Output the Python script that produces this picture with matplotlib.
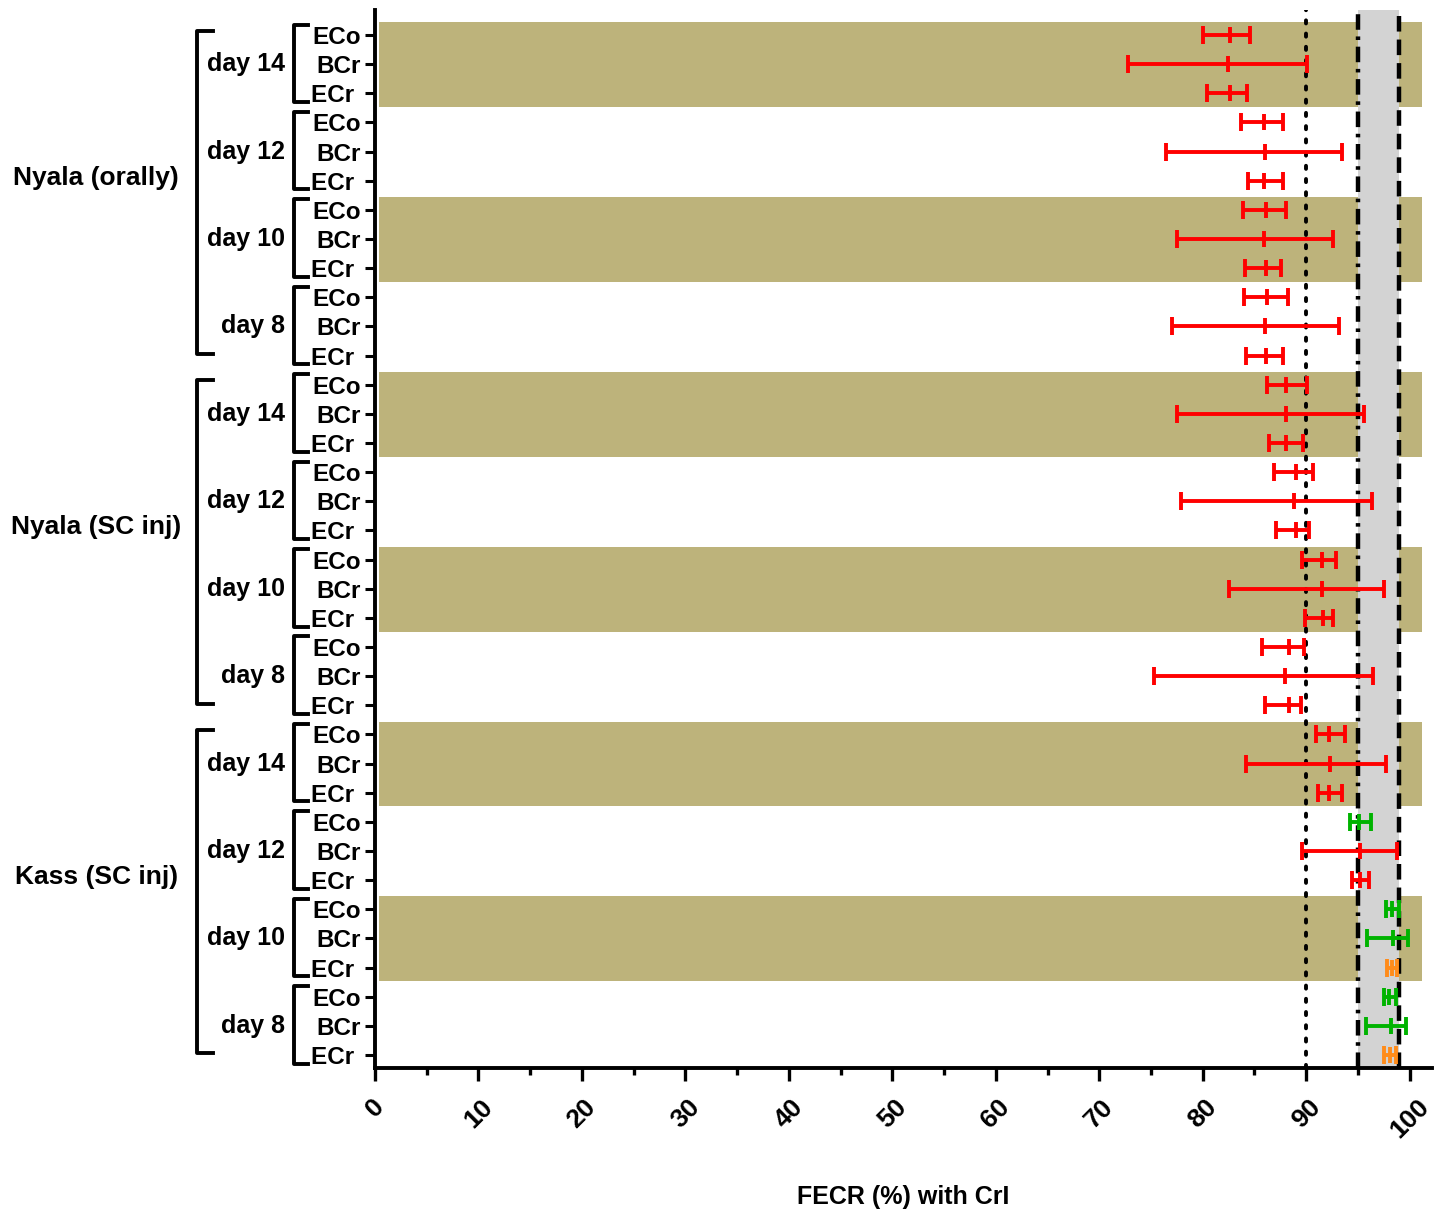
import matplotlib
matplotlib.use("Agg")
import matplotlib.pyplot as plt
import matplotlib.transforms as mtransforms
import numpy as np

# -------------------------------
# data (rows top to bottom)
# -------------------------------
groups = ["Nyala (orally)", "Nyala (SC inj)", "Kass (SC inj)"]
days = ["day 14", "day 12", "day 10", "day 8"]
methods = ["ECo", "BCr", "ECr "]

fecr = [82.6, 82.4, 82.6, 85.9, 86.0, 85.9, 86.1, 85.9, 86.1, 86.2, 86.0, 86.1,
        88.0, 88.0, 88.0, 89.0, 88.8, 89.0, 91.5, 91.5, 91.6, 88.3, 87.9, 88.3,
        92.2, 92.3, 92.2, 95.1, 95.2, 95.2, 98.3, 98.4, 98.3, 98.0, 98.2, 98.1]
cri_low = [80.0, 72.8, 80.4, 83.7, 76.4, 84.4, 83.9, 77.5, 84.1, 84.0, 77.0, 84.2,
           86.2, 77.5, 86.4, 86.9, 77.9, 87.1, 89.6, 82.5, 89.9, 85.7, 75.3, 86.0,
           90.9, 84.2, 91.1, 94.2, 89.6, 94.4, 97.7, 95.9, 97.8, 97.5, 95.8, 97.5]
cri_high = [84.6, 90.1, 84.3, 87.8, 93.5, 87.8, 88.0, 92.6, 87.6, 88.2, 93.2, 87.8,
            90.1, 95.6, 89.7, 90.7, 96.4, 90.3, 92.9, 97.5, 92.6, 89.8, 96.5, 89.5,
            93.7, 97.7, 93.5, 96.3, 98.8, 96.1, 99.0, 99.8, 98.8, 98.7, 99.6, 98.7]
status = ["r"] * 27 + ["g", "r", "r", "g", "g", "o", "g", "g", "o"]

status_colors = {"r": "#FF0000", "g": "#00B300", "o": "#FF8C1A"}

plt.rcParams["font.family"] = ["Liberation Sans", "DejaVu Sans"]
plt.rcParams["font.weight"] = "bold"

fig = plt.figure(figsize=(14.39, 12.13), dpi=100)
ax = fig.add_axes([0.2606, 0.1195, 0.7345, 0.8723])

n = len(fecr)
y = np.arange(n)
fecr = np.array(fecr)
lo = fecr - np.array(cri_low)
hi = np.array(cri_high) - fecr

# alternating background bands per day block
for b in range(0, n // 3, 2):
    ax.fill_between([0.4, 101.2], b * 3 - 0.44, b * 3 + 2.47,
                    color="#BDB37B", lw=0, zorder=1)

# cut-off zone and reference lines
ax.axvspan(95, 99, color="#D3D3D3", lw=0, zorder=2)
ax.axvline(90, color="black", lw=2.8, ls=(0, (0.8, 2.6)), dash_capstyle="round", zorder=3)
ax.axvline(95, color="black", lw=3.2, ls=(0, (3.5, 1.5, 0.8, 1.5)), zorder=3)
ax.axvline(99, color="black", lw=3.2, ls=(0, (3.5, 1.8)), zorder=3)

for key, col in status_colors.items():
    idx = [i for i, s in enumerate(status) if s == key]
    ax.errorbar(fecr[idx], y[idx], xerr=[lo[idx], hi[idx]], fmt="|", color=col,
                ecolor=col, elinewidth=2.8, capsize=6.5, capthick=2.8,
                markersize=11, mew=2.8, zorder=5)

ax.set_xlim(0, 102.15)
ax.set_ylim(n - 0.55, -0.86)
ax.set_xticks(np.arange(0, 101, 10))
ax.set_xticks(np.arange(5, 100, 10), minor=True)
ax.set_xticklabels([str(v) for v in range(0, 101, 10)], rotation=45,
                   ha="center", fontsize=19, fontweight="bold")
ax.set_yticks(y)
ax.set_yticklabels(methods * (n // 3), fontsize=17.5, fontweight="bold")
ax.tick_params(axis="y", length=7, width=2.2, pad=3)
ax.tick_params(axis="x", which="major", length=9, width=2.4, pad=10)
ax.tick_params(axis="x", which="minor", length=5, width=2.4)

for s in ["top", "right"]:
    ax.spines[s].set_visible(False)
for s in ["left", "bottom"]:
    ax.spines[s].set_linewidth(2.8)

ax.set_xlabel("FECR (%) with CrI", fontsize=18, fontweight="bold")
ax.xaxis.set_label_coords(0.5, -0.122)
ax.xaxis.label.set_va("center")

# bracket labels on the left
trans = mtransforms.blended_transform_factory(ax.transAxes, ax.transData)
for k in range(n // 3):
    top, bot = k * 3 - 0.36, k * 3 + 2.3
    ax.plot([-0.0633, -0.0766, -0.0766, -0.0633], [top, top, bot, bot],
            color="black", lw=2.8, transform=trans, clip_on=False)
    ax.text(-0.0855, k * 3 + 1, days[k % 4], transform=trans, ha="right",
            va="center", fontsize=18, fontweight="bold")

for g, name in enumerate(groups):
    first = g * 12
    top, bot = first - 0.15, first + 11 - 0.05
    ax.plot([-0.153, -0.1684, -0.1684, -0.153], [top, top, bot, bot],
            color="black", lw=2.8, transform=trans, clip_on=False)
    ax.text(-0.2637, first + 4.9, name, transform=trans, ha="center",
            va="center", fontsize=19, fontweight="bold")

plt.savefig("out.png", dpi=100)
